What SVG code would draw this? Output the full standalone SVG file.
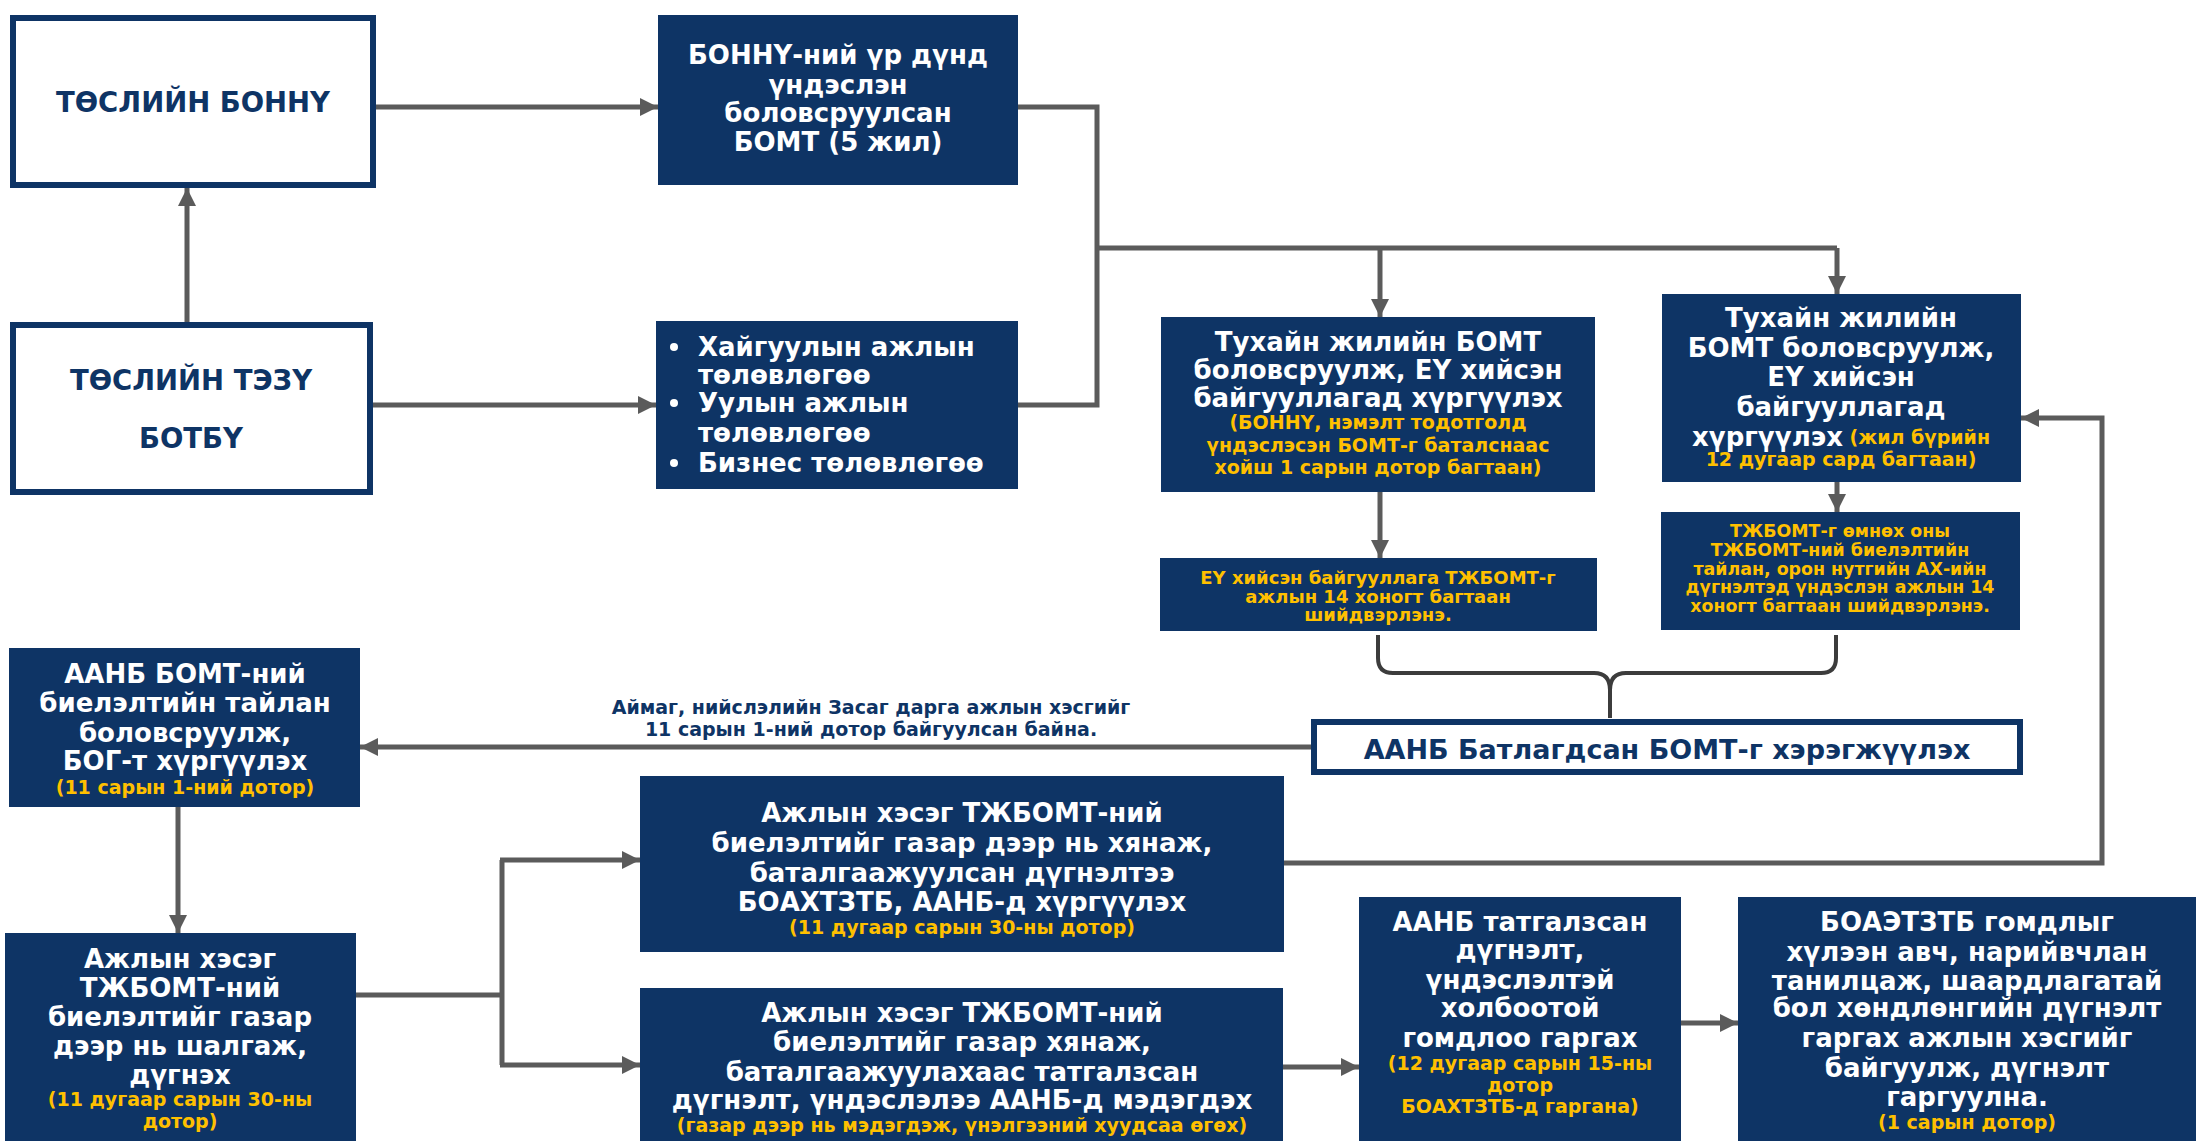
<svg xmlns="http://www.w3.org/2000/svg" width="2204" height="1141" viewBox="0 0 2204 1141">
<defs>
<style>
.nb{fill:#0e3465}
.wb{fill:#ffffff;stroke:#0e3465;stroke-width:6}
text{font-family:"DejaVu Sans","Verdana",sans-serif;font-weight:bold;text-anchor:middle;dominant-baseline:central}
.w{fill:#ffffff;font-size:26px}
.y{fill:#ffc000;font-size:19px}
.ys{fill:#ffc000;font-size:17.4px}
.n{fill:#0e3465;font-size:27.5px}
.lab{fill:#0e3465;font-size:19px}
.c{fill:none;stroke:#5b5b5b;stroke-width:5}
.br{fill:none;stroke:#3c3c3c;stroke-width:4}
</style>
<marker id="ah" markerWidth="18" markerHeight="18" viewBox="0 0 18 18" refX="18" refY="9" orient="auto" markerUnits="userSpaceOnUse">
<path d="M0,0 L18,9 L0,18 z" fill="#5b5b5b"/>
</marker>
</defs>
<rect width="2204" height="1141" fill="#ffffff"/>

<g id="connectors">
<path class="c" d="M376,107 H658" marker-end="url(#ah)"/>
<path class="c" d="M187,322 V188" marker-end="url(#ah)"/>
<path class="c" d="M373,405 H656" marker-end="url(#ah)"/>
<path class="c" d="M1018,107 H1097 V405 H1018"/>
<path class="c" d="M1097,248 H1837"/>
<path class="c" d="M1380,248 V317" marker-end="url(#ah)"/>
<path class="c" d="M1837,248 V294" marker-end="url(#ah)"/>
<path class="c" d="M1380,492 V558" marker-end="url(#ah)"/>
<path class="c" d="M1837,482 V512" marker-end="url(#ah)"/>
<path class="br" d="M1378,635 V658 Q1378,673 1393,673 H1594 Q1610,673 1610,690 V718 M1836,635 V658 Q1836,673 1821,673 H1626 Q1610,673 1610,690"/>
<path class="c" d="M1311,747 H360" marker-end="url(#ah)"/>
<path class="c" d="M178,807 V933" marker-end="url(#ah)"/>
<path class="c" d="M356,995 H502"/>
<path class="c" d="M502,860 V1065"/>
<path class="c" d="M500,860 H640" marker-end="url(#ah)"/>
<path class="c" d="M500,1065 H640" marker-end="url(#ah)"/>
<path class="c" d="M1284,863 H2102 V418 H2021" marker-end="url(#ah)"/>
<path class="c" d="M1283,1067 H1359" marker-end="url(#ah)"/>
<path class="c" d="M1681,1023 H1738" marker-end="url(#ah)"/>
<text class="lab" x="871" y="707">Аймаг, нийслэлийн Засаг дарга ажлын хэсгийг</text>
<text class="lab" x="871" y="729">11 сарын 1-ний дотор байгуулсан байна.</text>
</g>

<g id="node-a">
<rect class="wb" x="13" y="18" width="360" height="167"/>
<text class="n" x="193" y="102">ТӨСЛИЙН БОННҮ</text>
</g>

<g id="node-b">
<rect class="wb" x="13" y="325" width="357" height="167"/>
<text class="n" x="191" y="380">ТӨСЛИЙН ТЭЗҮ</text>
<text class="n" x="191" y="438">БОТБҮ</text>
</g>

<g id="node-c">
<rect class="nb" x="658" y="15" width="360" height="170"/>
<text class="w" x="838" y="55">БОННҮ-ний үр дүнд</text>
<text class="w" x="838" y="85">үндэслэн</text>
<text class="w" x="838" y="113">боловсруулсан</text>
<text class="w" x="838" y="142">БОМТ (5 жил)</text>
</g>

<g id="node-d">
<rect class="nb" x="656" y="321" width="362" height="168"/>
<circle cx="674" cy="347" r="4" fill="#ffffff"/>
<text class="w" x="698" y="347" style="text-anchor:start">Хайгуулын ажлын</text>
<text class="w" x="698" y="375" style="text-anchor:start">төлөвлөгөө</text>
<circle cx="674" cy="403" r="4" fill="#ffffff"/>
<text class="w" x="698" y="403" style="text-anchor:start">Уулын ажлын</text>
<text class="w" x="698" y="433" style="text-anchor:start">төлөвлөгөө</text>
<circle cx="674" cy="463" r="4" fill="#ffffff"/>
<text class="w" x="698" y="463" style="text-anchor:start">Бизнес төлөвлөгөө</text>
</g>

<g id="node-e">
<rect class="nb" x="1161" y="317" width="434" height="175"/>
<text class="w" x="1378" y="342">Тухайн жилийн БОМТ</text>
<text class="w" x="1378" y="370">боловсруулж, ЕҮ хийсэн</text>
<text class="w" x="1378" y="398">байгууллагад хүргүүлэх</text>
<text class="y" x="1378" y="422">(БОННҮ, нэмэлт тодотголд</text>
<text class="y" x="1378" y="445">үндэслэсэн БОМТ-г баталснаас</text>
<text class="y" x="1378" y="467">хойш 1 сарын дотор багтаан)</text>
</g>

<g id="node-f">
<rect class="nb" x="1662" y="294" width="359" height="188"/>
<text class="w" x="1841" y="318">Тухайн жилийн</text>
<text class="w" x="1841" y="348">БОМТ боловсруулж,</text>
<text class="w" x="1841" y="377">ЕҮ хийсэн</text>
<text class="w" x="1841" y="407">байгууллагад</text>
<text class="w" x="1841" y="437">хүргүүлэх<tspan class="y"> (жил бүрийн</tspan></text>
<text class="y" x="1841" y="459">12 дугаар сард багтаан)</text>
</g>

<g id="node-g">
<rect class="nb" x="1160" y="558" width="437" height="73"/>
<text class="ys" x="1378" y="577" style="font-size:18px">ЕҮ хийсэн байгууллага ТЖБОМТ-г</text>
<text class="ys" x="1378" y="596" style="font-size:18px">ажлын 14 хоногт багтаан</text>
<text class="ys" x="1378" y="614" style="font-size:18px">шийдвэрлэнэ.</text>
</g>

<g id="node-h">
<rect class="nb" x="1661" y="512" width="359" height="118"/>
<text class="ys" x="1840" y="531">ТЖБОМТ-г өмнөх оны</text>
<text class="ys" x="1840" y="550">ТЖБОМТ-ний биелэлтийн</text>
<text class="ys" x="1840" y="569">тайлан, орон нутгийн АХ-ийн</text>
<text class="ys" x="1840" y="587">дүгнэлтэд үндэслэн ажлын 14</text>
<text class="ys" x="1840" y="606">хоногт багтаан шийдвэрлэнэ.</text>
</g>

<g id="node-i">
<rect class="wb" x="1314" y="722" width="706" height="50"/>
<text class="n" x="1667" y="749" style="font-size:27px">ААНБ Батлагдсан БОМТ-г хэрэгжүүлэх</text>
</g>

<g id="node-j">
<rect class="nb" x="9" y="648" width="351" height="159"/>
<text class="w" x="185" y="674">ААНБ БОМТ-ний</text>
<text class="w" x="185" y="703">биелэлтийн тайлан</text>
<text class="w" x="185" y="733">боловсруулж,</text>
<text class="w" x="185" y="761">БОГ-т хүргүүлэх</text>
<text class="y" x="185" y="787">(11 сарын 1-ний дотор)</text>
</g>

<g id="node-k">
<rect class="nb" x="5" y="933" width="351" height="210"/>
<text class="w" x="180" y="959">Ажлын хэсэг</text>
<text class="w" x="180" y="988">ТЖБОМТ-ний</text>
<text class="w" x="180" y="1017">биелэлтийг газар</text>
<text class="w" x="180" y="1046">дээр нь шалгаж,</text>
<text class="w" x="180" y="1075">дүгнэх</text>
<text class="y" x="180" y="1099">(11 дугаар сарын 30-ны</text>
<text class="y" x="180" y="1121">дотор)</text>
</g>

<g id="node-l">
<rect class="nb" x="640" y="776" width="644" height="176"/>
<text class="w" x="962" y="813">Ажлын хэсэг ТЖБОМТ-ний</text>
<text class="w" x="962" y="843">биелэлтийг газар дээр нь хянаж,</text>
<text class="w" x="962" y="873">баталгаажуулсан дүгнэлтээ</text>
<text class="w" x="962" y="902">БОАХТЗТБ, ААНБ-д хүргүүлэх</text>
<text class="y" x="962" y="927">(11 дугаар сарын 30-ны дотор)</text>
</g>

<g id="node-m">
<rect class="nb" x="640" y="988" width="643" height="155"/>
<text class="w" x="962" y="1013">Ажлын хэсэг ТЖБОМТ-ний</text>
<text class="w" x="962" y="1042">биелэлтийг газар хянаж,</text>
<text class="w" x="962" y="1072">баталгаажуулахаас татгалзсан</text>
<text class="w" x="962" y="1100">дүгнэлт, үндэслэлээ ААНБ-д мэдэгдэх</text>
<text class="y" x="962" y="1125">(газар дээр нь мэдэгдэж, үнэлгээний хуудсаа өгөх)</text>
</g>

<g id="node-n">
<rect class="nb" x="1359" y="897" width="322" height="246"/>
<text class="w" x="1520" y="922">ААНБ татгалзсан</text>
<text class="w" x="1520" y="950">дүгнэлт,</text>
<text class="w" x="1520" y="980">үндэслэлтэй</text>
<text class="w" x="1520" y="1008">холбоотой</text>
<text class="w" x="1520" y="1038">гомдлоо гаргах</text>
<text class="y" x="1520" y="1063">(12 дугаар сарын 15-ны</text>
<text class="y" x="1520" y="1085">дотор</text>
<text class="y" x="1520" y="1106">БОАХТЗТБ-д гаргана)</text>
</g>

<g id="node-o">
<rect class="nb" x="1738" y="897" width="458" height="246"/>
<text class="w" x="1967" y="922">БОАЭТЗТБ гомдлыг</text>
<text class="w" x="1967" y="952">хүлээн авч, нарийвчлан</text>
<text class="w" x="1967" y="981">танилцаж, шаардлагатай</text>
<text class="w" x="1967" y="1008">бол хөндлөнгийн дүгнэлт</text>
<text class="w" x="1967" y="1038">гаргах ажлын хэсгийг</text>
<text class="w" x="1967" y="1068">байгуулж, дүгнэлт</text>
<text class="w" x="1967" y="1097">гаргуулна.</text>
<text class="y" x="1967" y="1122">(1 сарын дотор)</text>
</g>
</svg>
